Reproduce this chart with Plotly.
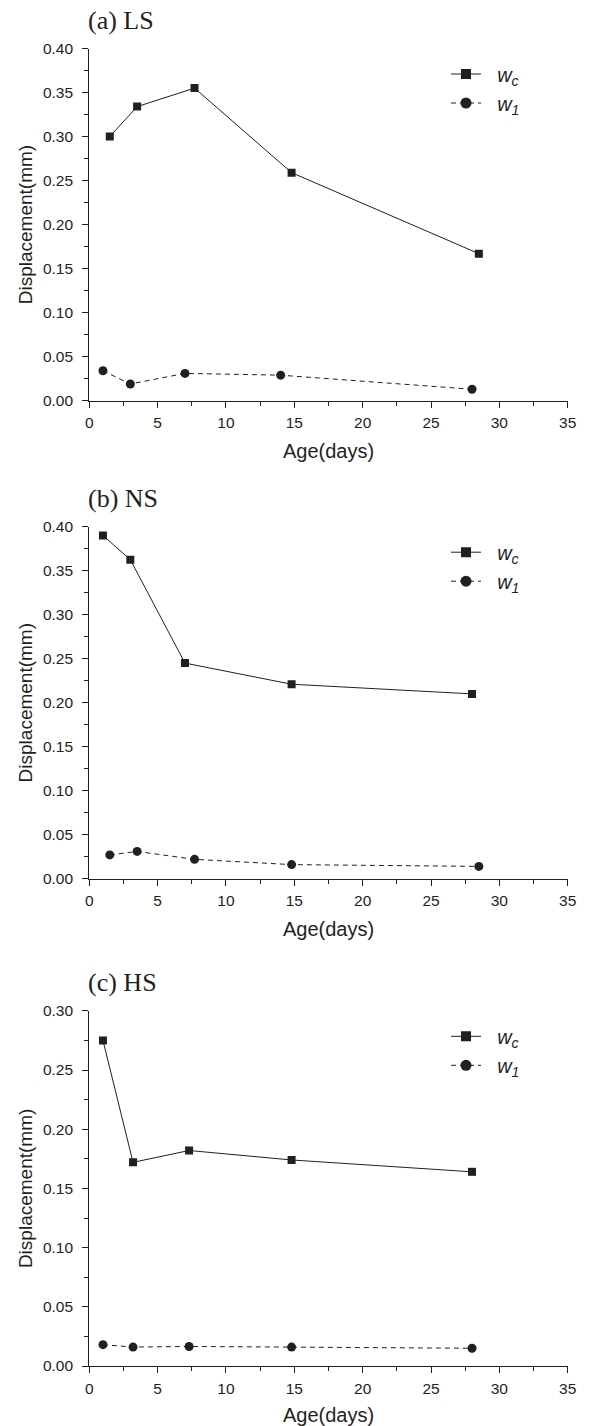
import plotly.graph_objects as go

# ---- data ----
age_a_wc = [1.5, 3.5, 7.7, 14.8, 28.5]
disp_a_wc = [0.300, 0.334, 0.355, 0.259, 0.167]
age_a_w1 = [1, 3, 7, 14, 28]
disp_a_w1 = [0.034, 0.019, 0.031, 0.029, 0.013]

age_b_wc = [1, 3, 7, 14.8, 28]
disp_b_wc = [0.390, 0.3625, 0.245, 0.221, 0.210]
age_b_w1 = [1.5, 3.5, 7.7, 14.8, 28.5]
disp_b_w1 = [0.027, 0.031, 0.022, 0.016, 0.014]

age_c = [1, 3.2, 7.3, 14.8, 28]
disp_c_wc = [0.275, 0.172, 0.182, 0.174, 0.164]
disp_c_w1 = [0.018, 0.016, 0.0165, 0.016, 0.015]

panel_titles = ["(a) LS", "(b) NS", "(c) HS"]
y_ranges = [[0, 0.40], [0, 0.40], [0, 0.30]]
x_range = [0, 35]
series_names = ["\u00a0\u00a0<i>w</i><sub><i>c</i></sub>", "\u00a0\u00a0<i>w</i><sub><i>1</i></sub>"]

W, H = 589, 1426
INK = "#231f20"
SANS = "Liberation Sans, Arial, sans-serif"
SERIF = "Liberation Serif, Times New Roman, serif"

# pixel geometry of plot areas (top, bottom)
panels_px = [(48.5, 400.7), (526.7, 878.7), (1010.8, 1366.0)]
left_px, right_px = 89.3, 567.7

fig = go.Figure()

data = [
    (age_a_wc, disp_a_wc, age_a_w1, disp_a_w1),
    (age_b_wc, disp_b_wc, age_b_w1, disp_b_w1),
    (age_c, disp_c_wc, age_c, disp_c_w1),
]

for i, (xw, yw, x1, y1) in enumerate(data):
    sfx = "" if i == 0 else str(i + 1)
    leg = "legend" + sfx
    wc_line = dict(color=INK, width=1)
    w1_line = dict(color=INK, width=1, dash="5px,4px")
    fig.add_trace(go.Scatter(
        x=xw, y=yw, mode="lines+markers", name=series_names[0],
        xaxis="x" + sfx, yaxis="y" + sfx, showlegend=False,
        line=wc_line, marker=dict(symbol="square", size=8, color=INK),
    ))
    fig.add_trace(go.Scatter(
        x=x1, y=y1, mode="lines+markers", name=series_names[1],
        xaxis="x" + sfx, yaxis="y" + sfx, showlegend=False,
        line=w1_line, marker=dict(symbol="circle", size=9, color=INK),
    ))
    # legend keys (slightly larger symbols, as in the reference legend)
    fig.add_trace(go.Scatter(
        x=[None], y=[None], mode="lines+markers", name=series_names[0],
        xaxis="x" + sfx, yaxis="y" + sfx, legend=leg, hoverinfo="skip",
        line=wc_line, marker=dict(symbol="square", size=10, color=INK),
    ))
    fig.add_trace(go.Scatter(
        x=[None], y=[None], mode="lines+markers", name=series_names[1],
        xaxis="x" + sfx, yaxis="y" + sfx, legend=leg, hoverinfo="skip",
        line=w1_line, marker=dict(symbol="circle", size=11, color=INK),
    ))

layout = dict(
    width=W, height=H,
    margin=dict(l=0, r=0, t=0, b=0, autoexpand=False),
    paper_bgcolor="white", plot_bgcolor="white",
    font=dict(family=SANS, color=INK, size=15),
    showlegend=True,
)

dom_x = [left_px / W, right_px / W]
annotations = []
for i, (top, bot) in enumerate(panels_px):
    sfx = "" if i == 0 else str(i + 1)
    dom_y = [1 - bot / H, 1 - top / H]
    layout["xaxis" + sfx] = dict(
        domain=dom_x, range=x_range, anchor="y" + sfx,
        dtick=5, tick0=0, ticks="outside", ticklen=6, tickwidth=1.2, tickcolor=INK,
        showline=True, linecolor=INK, linewidth=1.3, showgrid=False, zeroline=False,
        tickfont=dict(size=15.5, family=SANS, color=INK), ticklabelstandoff=2,
        minor=dict(dtick=2.5, ticks="outside", ticklen=4, tickwidth=1.2, tickcolor=INK),
        title=dict(text="Age(days)", font=dict(size=20, family=SANS, color=INK), standoff=13),
        fixedrange=True,
    )
    layout["yaxis" + sfx] = dict(
        domain=dom_y, range=y_ranges[i], anchor="x" + sfx,
        dtick=0.05, tick0=0, tickformat=".2f",
        ticks="outside", ticklen=6, tickwidth=1.2, tickcolor=INK,
        showline=True, linecolor=INK, linewidth=1.3, showgrid=False, zeroline=False,
        tickfont=dict(size=15.5, family=SANS, color=INK), ticklabelstandoff=6,
        minor=dict(dtick=0.025, ticks="outside", ticklen=4, tickwidth=1.2, tickcolor=INK),
        title=dict(text="Displacement(mm)", font=dict(size=19, family=SANS, color=INK), standoff=5),
        fixedrange=True,
    )
    annotations.append(dict(
        text=panel_titles[i], xref="paper", yref="paper",
        x=86 / W, y=1 - (top - 28.5) / H, xanchor="left", yanchor="middle",
        showarrow=False, font=dict(family=SERIF, size=26, color=INK),
    ))
    leg_top = top + 6
    layout["legend" + sfx] = dict(
        x=446 / W, y=1 - leg_top / H, xanchor="left", yanchor="top",
        bgcolor="rgba(0,0,0,0)", borderwidth=0,
        font=dict(family=SANS, size=20, color=INK),
        tracegroupgap=0, itemwidth=30,
    )

layout["annotations"] = annotations
fig.update_layout(**layout)
fig.write_html(
    "out.html",
    config={"displayModeBar": False, "staticPlot": False},
    post_script="document.body.style.margin='0';document.body.style.padding='0';",
)
